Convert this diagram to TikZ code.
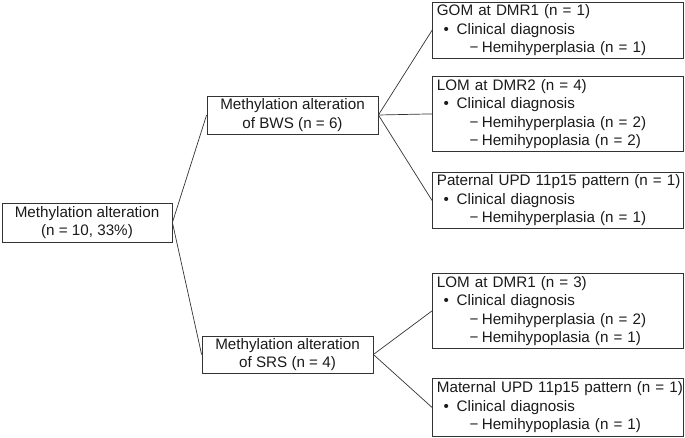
\documentclass[tikz,border=0pt]{standalone}
\usepackage{fontspec}
\setmainfont{Liberation Sans}
\definecolor{boxline}{HTML}{333333}
\definecolor{txt}{HTML}{1A1A1A}
\newcommand{\oneline}[1]{\mbox{#1}}
\newcommand{\bul}{\hspace*{0.45em}•\hspace{0.5em}}
\newcommand{\dsh}{\hspace*{2.15em}−\hspace{0.22em}}
\begin{document}
\begin{tikzpicture}[x=1pt,y=-1pt,
  every node/.style={text=txt,font=\fontsize{15.2}{18.5}\selectfont},
  midbox/.style={draw=boxline,line width=0.8pt,rectangle,align=center,
    inner sep=0pt,minimum width=171,minimum height=38},
  leafbox/.style={draw=boxline,line width=0.8pt,rectangle,anchor=north west,
    align=left,text width=242,inner xsep=4.5,inner ysep=0pt,minimum width=251},
  link/.style={draw=boxline,line width=0.7pt}]
\useasboundingbox (0,0) rectangle (685,438);
\node[midbox,minimum width=170,minimum height=39] (root) at (87,222.5)
  {Methylation alteration\\(n = 10, 33\%)};
\node[midbox] (bws) at (292.5,115) {Methylation alteration\\of BWS (n = 6)};
\node[midbox,minimum height=37] (srs) at (287.5,354.5) {Methylation alteration\\of SRS (n = 4)};
\node[leafbox,minimum height=56] (gom1) at (432,2)
  {\oneline{GOM at DMR1 (n = 1)}\\\oneline{\bul Clinical diagnosis}\\\oneline{\dsh Hemihyperplasia (n = 1)}};
\node[leafbox,minimum height=75] (lom2) at (432,76)
  {\oneline{LOM at DMR2 (n = 4)}\\\oneline{\bul Clinical diagnosis}\\\oneline{\dsh Hemihyperplasia (n = 2)}\\\oneline{\dsh Hemihypoplasia (n = 2)}};
\node[leafbox,minimum height=56] (pat) at (432,172)
  {\oneline{Paternal UPD 11p15 pattern (n = 1)}\\\oneline{\bul Clinical diagnosis}\\\oneline{\dsh Hemihyperplasia (n = 1)}};
\node[leafbox,minimum height=75] (lom1) at (432,273)
  {\oneline{LOM at DMR1 (n = 3)}\\\oneline{\bul Clinical diagnosis}\\\oneline{\dsh Hemihyperplasia (n = 2)}\\\oneline{\dsh Hemihypoplasia (n = 1)}};
\node[leafbox,minimum height=58] (mat) at (432,378)
  {\oneline{Maternal UPD 11p15 pattern (n = 1)}\\\oneline{\bul Clinical diagnosis}\\\oneline{\dsh Hemihypoplasia (n = 1)}};
\draw[link] (root.east) -- (bws.west);
\draw[link] (root.east) -- (srs.west);
\draw[link] (bws.east) -- (gom1.west);
\draw[link] (bws.east) -- (lom2.west);
\draw[link] (bws.east) -- (pat.west);
\draw[link] (srs.east) -- (lom1.west);
\draw[link] (srs.east) -- (mat.west);
\end{tikzpicture}
\end{document}
